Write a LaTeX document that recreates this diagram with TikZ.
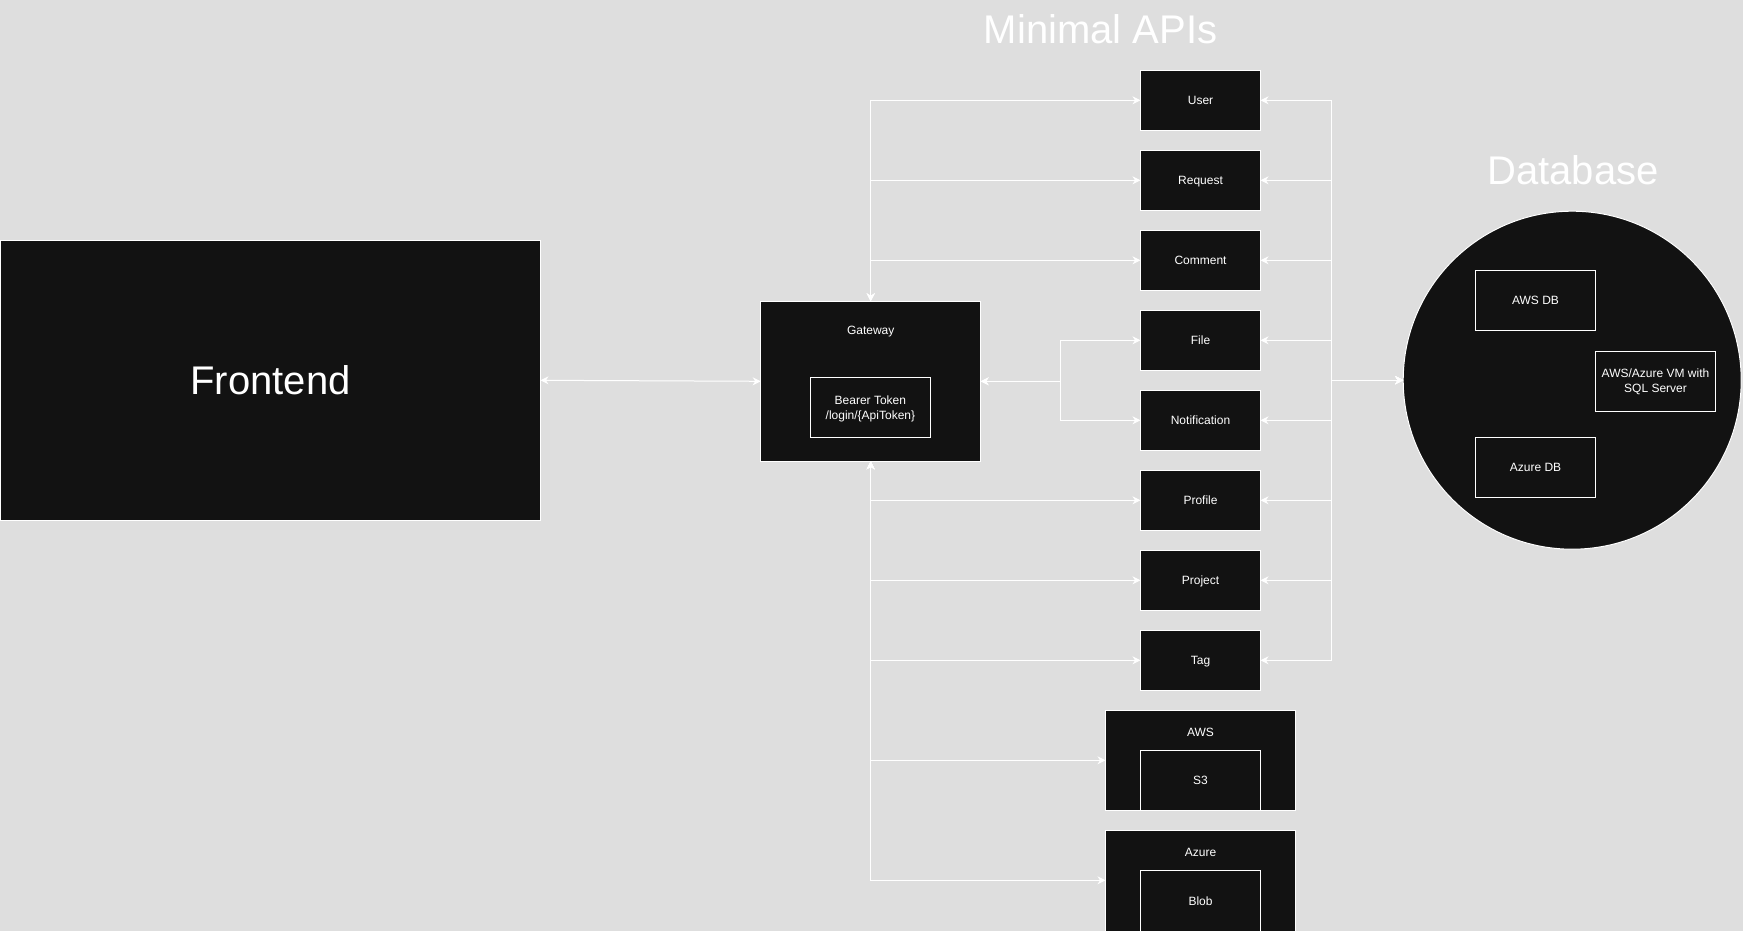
\documentclass[tikz,border=0pt]{standalone}
\usepackage{fontspec}
\setmainfont{Liberation Sans}
\usetikzlibrary{arrows.meta}
\definecolor{bg}{HTML}{DEDEDE}
\definecolor{boxfill}{HTML}{121212}
\begin{document}
\begin{tikzpicture}[x=1pt,y=-1pt,
  >={Stealth[length=8pt,width=8pt,inset=2.5pt]},
  box/.style={draw=white, line width=1pt, fill=boxfill, inner sep=0pt, outer sep=0pt,
    text=white, font=\fontsize{12}{14.4}\selectfont, text height=8.6pt, text depth=0pt,
    minimum width=120pt, minimum height=60pt},
  lbl/.style={text=white, inner sep=0pt, font=\fontsize{12}{14.4}\selectfont,
    text height=8.6pt, text depth=0pt},
  title/.style={text=white, inner sep=0pt, font=\fontsize{40}{48}\selectfont,
    text height=28.6pt, text depth=0pt},
  conn/.style={draw=white, line width=1pt, <->}]
\fill[bg] (0,0) rectangle (1743,931);
\useasboundingbox (0,0) rectangle (1743,931);

% titles
\node[title] (tapi) at (1100.5,29.2) {Minimal APIs};
\node[title] (tdb) at (1573,169.9) {Database};

% frontend
\node[box, minimum width=540pt, minimum height=280pt, font=\fontsize{40}{48}\selectfont,
  text height=28.6pt] (fe) at (270.5,380.3) {Frontend};

% gateway
\node[box, minimum width=220pt, minimum height=160pt] (gw) at (870.7,381.3) {};
\node[lbl] (gwl) at (870.7,330.5) {Gateway};
\node[box] (bearer) at (870.4,407) {};
\node[lbl, anchor=base, text height=, text depth=] (bl1) at (870.4,404) {Bearer Token};
\node[lbl, anchor=base, text height=, text depth=] (bl2) at (870.4,419.2) {/login/\{ApiToken\}};

% minimal API boxes
\node[box] (user) at (1200.5,100.3) {User};
\node[box] (request) at (1200.5,180.3) {Request};
\node[box] (comment) at (1200.5,260.3) {Comment};
\node[box] (file) at (1200.5,340.3) {File};
\node[box] (notif) at (1200.5,420.3) {Notification};
\node[box] (profile) at (1200.5,500.3) {Profile};
\node[box] (project) at (1200.5,580.3) {Project};
\node[box] (tag) at (1200.5,660.3) {Tag};

% storage
\node[box, minimum width=190pt, minimum height=100pt] (aws) at (1200.5,760.3) {};
\node[lbl] (awsl) at (1200.5,731.7) {AWS};
\node[box] (s3) at (1200.5,780.3) {S3};
\node[box, minimum width=190pt, minimum height=104pt] (azure) at (1200.5,882.3) {};
\node[lbl] (azurel) at (1200.5,851.7) {Azure};
\node[box, minimum height=64pt] (blob) at (1200.5,902.3) {};
\node[lbl] (blobl) at (1200.5,900.7) {Blob};

% database
\node[box, circle, minimum size=338pt] (db) at (1572.2,380.2) {};
\node[box] (awsdb) at (1535.5,300.3) {AWS DB};
\node[box] (azdb) at (1535.5,467.3) {Azure DB};
\node[box] (vm) at (1655.5,381.5) {};
\node[lbl, anchor=base, text height=, text depth=] (vm1) at (1655.5,377.7) {AWS/Azure VM with};
\node[lbl, anchor=base, text height=, text depth=] (vm2) at (1655.5,392.7) {SQL Server};

% coordinates
\coordinate (split) at (1060.3,381.3);
\coordinate (busr) at (1331.7,380.2);

% connectors
\draw[conn] (fe.east) -- (gw.west);
\foreach \n in {user,request,comment}
  \draw[conn] (gw.north) |- (\n.west);
\foreach \n in {profile,project,tag,aws}
  \draw[conn] (gw.south) |- (\n.west);
\draw[conn] (gw.south) |- ([yshift=2pt]azure.west);
\draw[conn] (gw.east) -- (split) |- (file.west);
\draw[conn] (gw.east) -- (split) |- (notif.west);
\foreach \n in {user,request,comment,file,notif,profile,project,tag}
  \draw[conn] (db.west) -- (busr) |- (\n.east);
\end{tikzpicture}
\end{document}
